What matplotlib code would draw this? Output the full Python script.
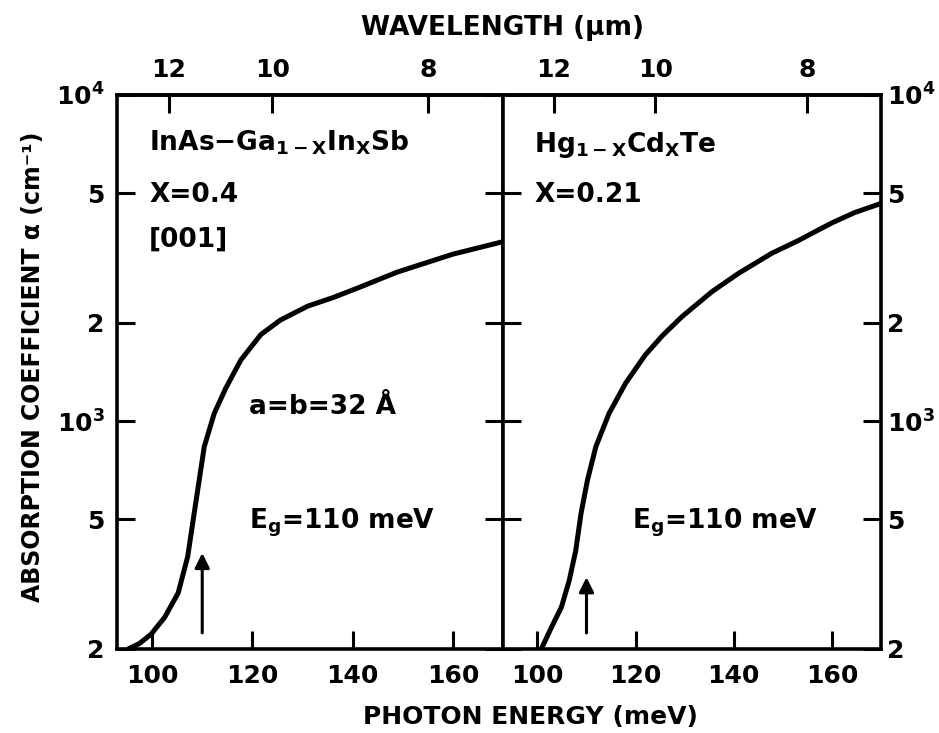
#Absorption coefficient of an InAs-GaInSb superlattice compared with HgCdTe
#Two panels sharing a log alpha axis, photon energy at bottom, wavelength on top

import numpy as np
import matplotlib
matplotlib.use("Agg")
import matplotlib.pyplot as plt
from matplotlib.ticker import FixedLocator, NullLocator

plt.rcParams['font.family'] = 'DejaVu Sans'
plt.rcParams['font.weight'] = 'bold'
plt.rcParams['mathtext.fontset'] = 'dejavusans'
plt.rcParams['mathtext.default'] = 'bf'

# curves (meV, cm^-1)
sl_energy = [95.2, 97.5, 99.8, 102.5, 105.2, 107.1, 108.4, 109.4, 110.4, 112.4,
             114.7, 117.7, 121.7, 125.6, 131.0, 136.2, 141.6, 148.8, 160.0, 170.0]
sl_alpha = [200, 208, 222, 250, 297, 384, 522, 659, 834, 1056,
            1262, 1539, 1843, 2041, 2250, 2395, 2580, 2860, 3250, 3550]

hg_energy = [100.8, 102.8, 104.9, 106.5, 107.8, 108.9, 110.2, 111.9, 114.6, 118.0,
             122.0, 125.5, 129.5, 135.6, 141.0, 147.7, 153.1, 159.9, 164.6, 170.0]
hg_alpha = [200, 232, 269, 325, 400, 522, 659, 834, 1056, 1309,
            1597, 1830, 2094, 2497, 2840, 3268, 3575, 4047, 4358, 4650]

energy_ticks = [100, 120, 140, 160]
wl_ticks = [12, 10, 8]
alpha_ticks = [200, 500, 1000, 2000, 5000, 10000]
alpha_labels = ['2', '5', '$10^3$', '2', '5', '$10^4$']

eg = 110  # band gap marked by arrows
hc = 1239.84  # meV*um

fsize = 18

def e2wl(x):
    x = np.asarray(x, dtype=float)
    with np.errstate(divide='ignore'):
        return hc / x

def setup_panel(ax, side):
    ax.set_xlim(93, 170)
    ax.set_ylim(200, 10000)
    ax.set_yscale('log')
    ax.xaxis.set_major_locator(FixedLocator(energy_ticks))
    ax.xaxis.set_minor_locator(NullLocator())
    ax.yaxis.set_major_locator(FixedLocator(alpha_ticks))
    ax.yaxis.set_minor_locator(NullLocator())
    ax.set_yticklabels(alpha_labels)
    for s in ax.spines.values():
        s.set_linewidth(2.6)
    ax.tick_params(axis='x', direction='in', length=13, width=2.2,
                   labelsize=fsize, pad=11, top=False)
    ax.tick_params(axis='y', direction='in', length=13, width=2.2,
                   labelsize=fsize, pad=(9 if side == 'left' else 4),
                   left=True, right=True,
                   labelleft=(side == 'left'), labelright=(side == 'right'))
    top = ax.secondary_xaxis('top', functions=(e2wl, e2wl))
    top.xaxis.set_major_locator(FixedLocator(wl_ticks))
    top.xaxis.set_minor_locator(NullLocator())
    top.tick_params(direction='in', length=13, width=2.2, labelsize=fsize, pad=9)
    top.spines['top'].set_linewidth(2.6)

fig = plt.figure(figsize=(9.39, 7.33), dpi=100)
ax1 = fig.add_axes([0.1246, 0.1146, 0.4111, 0.7558])
ax2 = fig.add_axes([0.5357, 0.1146, 0.4026, 0.7558])
setup_panel(ax1, 'left')
setup_panel(ax2, 'right')

ax1.plot(sl_energy, sl_alpha, color='black', linewidth=3.6,
         solid_capstyle='round', solid_joinstyle='round')
ax2.plot(hg_energy, hg_alpha, color='black', linewidth=3.6,
         solid_capstyle='round', solid_joinstyle='round')

tfs = 19
ax1.text(99.4, 7130, r'InAs$-$Ga$_{\mathbf{1-X}}$In$_{\mathbf{X}}$Sb', fontsize=tfs, va='center')
ax1.text(99.4, 4940, 'X=0.4', fontsize=tfs, va='center')
ax1.text(99.4, 3600, '[001]', fontsize=tfs, va='center')
ax1.text(119.3, 1107, 'a=b=32 Å', fontsize=tfs, va='center')
ax1.text(119.3, 486, r'E$_{\mathbf{g}}$=110 meV', fontsize=tfs, va='center')
ax1.annotate('', xy=(eg, 394), xytext=(eg, 224),
             arrowprops=dict(arrowstyle='-|>', color='black', lw=2.2,
                             mutation_scale=22, shrinkA=0, shrinkB=0))

ax2.text(99.4, 7040, r'Hg$_{\mathbf{1-X}}$Cd$_{\mathbf{X}}$Te', fontsize=tfs, va='center')
ax2.text(99.4, 4940, 'X=0.21', fontsize=tfs, va='center')
ax2.text(119.3, 486, r'E$_{\mathbf{g}}$=110 meV', fontsize=tfs, va='center')
ax2.annotate('', xy=(eg, 332), xytext=(eg, 224),
             arrowprops=dict(arrowstyle='-|>', color='black', lw=2.2,
                             mutation_scale=22, shrinkA=0, shrinkB=0))

fig.text(0.535, 0.962, 'WAVELENGTH (μm)', fontsize=19, ha='center', va='center')
fig.text(0.565, 0.022, 'PHOTON ENERGY (meV)', fontsize=18, ha='center', va='center')
fig.text(0.035, 0.5, 'ABSORPTION COEFFICIENT α (cm⁻¹)', fontsize=17,
         rotation=90, ha='center', va='center')

plt.savefig("out.png", dpi=100)
